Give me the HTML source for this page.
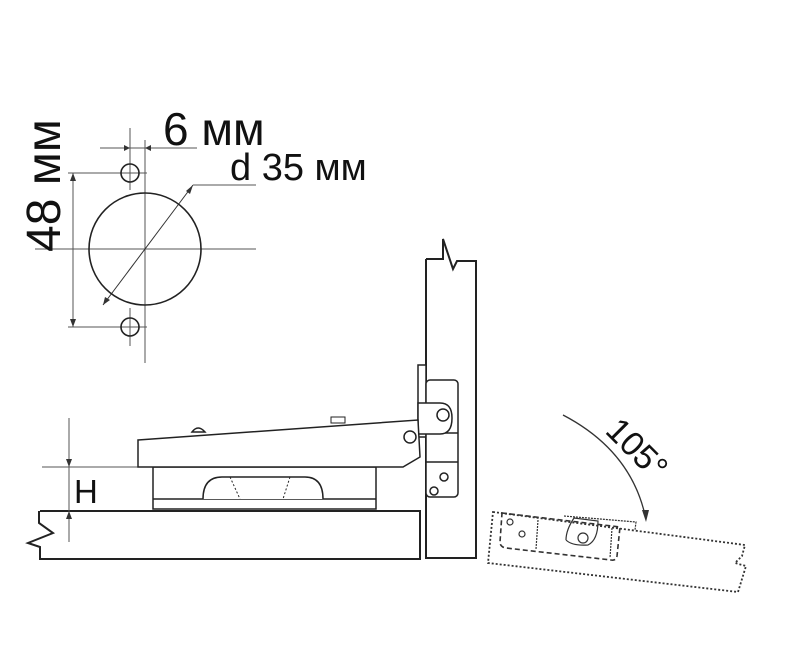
<!DOCTYPE html>
<html><head><meta charset="utf-8"><style>
html,body{margin:0;padding:0;background:#fff;}
svg{display:block;}
text{font-family:"Liberation Sans",sans-serif;fill:#111;}
</style></head><body>
<svg width="798" height="666" viewBox="0 0 798 666" xmlns="http://www.w3.org/2000/svg">
<g fill="none" stroke="#222" stroke-width="1">
  <line x1="145" y1="140" x2="145" y2="363" stroke="#555"/>
  <line x1="35" y1="249" x2="256" y2="249" stroke="#555"/>
  <line x1="130" y1="128" x2="130" y2="190" stroke="#555"/>
  <line x1="130" y1="308" x2="130" y2="346" stroke="#555"/>
  <line x1="100" y1="148" x2="197" y2="148" stroke="#555"/>
  <line x1="68" y1="173" x2="147" y2="173" stroke="#555"/>
  <line x1="68" y1="327" x2="147" y2="327" stroke="#555"/>
  <line x1="73" y1="173" x2="73" y2="327" stroke="#555"/>
  <line x1="103" y1="305" x2="193" y2="185" stroke="#333"/>
  <line x1="193" y1="185" x2="256" y2="185" stroke="#555"/>
</g>
<g fill="#333">
  <polygon points="130,148 124,145 124,151"/>
  <polygon points="145,148 151,145 151,151"/>
  <polygon points="73,173 70,181 76,181"/>
  <polygon points="73,327 70,319 76,319"/>
  <polygon points="103,305 105,297 110,300"/>
  <polygon points="193,185 186,191 190,194"/>
</g>
<g fill="none" stroke="#222" stroke-width="1.6">
  <circle cx="145" cy="249" r="56"/>
  <circle cx="130" cy="173" r="9"/>
  <circle cx="130" cy="327" r="9"/>
</g>
<text x="163" y="145" font-size="46">6 мм</text>
<text x="230" y="180" font-size="38">d 35 мм</text>
<text transform="translate(60,252) rotate(-90)" font-size="48">48 мм</text>

<g fill="none" stroke="#222" stroke-width="2">
  <polyline points="426,259 426,558 476,558 476,261 457,261 453,269 443,239 443,259 426,259"/>
  <polyline points="40,511 420,511 420,559 40,559 40,547 28,543 53,533 39,523 39,511"/>
</g>
<g stroke="#555" stroke-width="1" fill="none">
  <line x1="69" y1="418" x2="69" y2="542"/>
  <line x1="42" y1="467" x2="138" y2="467"/>
</g>
<g fill="#333">
  <polygon points="69,467 66,459 72,459"/>
  <polygon points="69,511 66,519 72,519"/>
</g>
<text x="74" y="503" font-size="33">H</text>

<g fill="#fff" stroke="#222" stroke-width="1.5">
  <rect x="153" y="467" width="223" height="42"/>
  <line x1="153" y1="499" x2="376" y2="499"/>
  <path d="M203,499 Q203,477 222,477 L305,477 Q323,477 323,499" />
  <rect x="418" y="365" width="8" height="72"/>
  <rect x="426" y="380" width="32" height="117" rx="4"/>
  <line x1="426" y1="433" x2="458" y2="433"/>
  <line x1="426" y1="462" x2="458" y2="462"/>
  <path d="M418,403 L440,403 Q452,403 452,418 Q452,434 440,434 L418,434 Z"/>
  <polygon points="138,440 418,420 420,457 403,467 138,467"/>
  <path d="M192,432 Q198,424 205,432 Z"/>
  <rect x="331" y="417" width="14" height="6" stroke-width="1"/>
</g>
<g fill="none" stroke="#222" stroke-width="1.5">
  <circle cx="443" cy="415" r="6"/>
  <circle cx="410" cy="437" r="6"/>
  <circle cx="444" cy="477" r="4"/>
  <circle cx="434" cy="491" r="4"/>
  <line x1="230" y1="477" x2="240" y2="499" stroke-dasharray="2,2" stroke-width="1"/>
  <line x1="290" y1="477" x2="283" y2="499" stroke-dasharray="2,2" stroke-width="1"/>
</g>

<g fill="none" stroke="#333" stroke-width="1.8" stroke-dasharray="2,2">
  <polygon points="493,512 745,545 742,556 735,563 746,566 738,592 488,563"/>
</g>
<g fill="none" stroke="#333" stroke-width="1.6" stroke-dasharray="5,3">
  <path d="M502,513 L620,527 L617,556 Q616,561 611,560 L506,548 Q500,547 500,542 Z"/>
</g>
<g fill="none" stroke="#333" stroke-width="1.2">
  <path d="M564,516 L636,522 L635,530" stroke-dasharray="2,1"/>
  <path d="M566,540 Q566,530 574,518 L598,521 Q598,540 588,545 Q572,546 566,540" />
  <circle cx="583" cy="538" r="5"/>
  <circle cx="510" cy="522" r="3"/>
  <circle cx="522" cy="534" r="3"/>
  <line x1="538" y1="520" x2="536" y2="549" stroke-dasharray="2,1"/>
  <line x1="612" y1="528" x2="610" y2="558" stroke-dasharray="2,1"/>
</g>
<path d="M563,415 Q630,450 645,515" fill="none" stroke="#333" stroke-width="1.3"/>
<polygon points="646,522 642,510 649,510" fill="#333"/>
<text transform="translate(604,432) rotate(45)" font-size="34">105°</text>
</svg>
</body></html>
